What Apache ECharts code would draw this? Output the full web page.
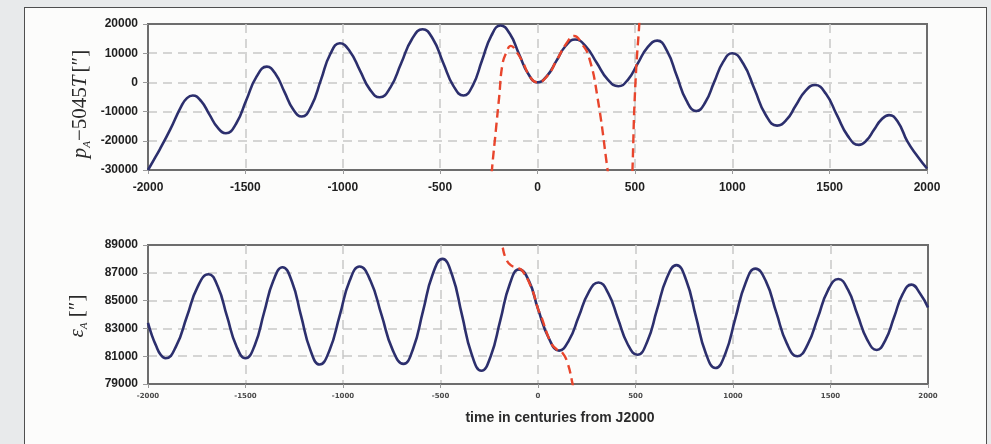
<!DOCTYPE html>
<html><head><meta charset="utf-8">
<script src="https://cdn.jsdelivr.net/npm/echarts@6/dist/echarts.min.js"></script>
<style>
html,body{margin:0;padding:0;background:#e8eaeb;width:991px;height:444px;overflow:hidden;}
#frame{position:absolute;left:24px;top:7px;width:961px;height:460px;border:1px solid #4f4f4f;background:#fcfcfb;}
#chart{position:absolute;left:0;top:0;width:991px;height:444px;}
</style></head><body>
<div id="frame"></div><div id="chart"></div>
<script>
// ---- tick settings ----
const xTicks = [-2000, -1500, -1000, -500, 0, 500, 1000, 1500, 2000];
const topYTicks = [-30000, -20000, -10000, 0, 10000, 20000];
const botYTicks = [79000, 81000, 83000, 85000, 87000, 89000];

// ---- top panel: p_A - 5045T (blue, long-term) ----
const pTime = [-2000,-1970,-1940,-1885,-1830,-1800,-1770,-1727,-1685,-1642,-1600,-1547,-1495,-1442,-1390,-1345,-1300,-1255,-1210,-1161,-1112,-1064,-1015,-964,-912,-861,-810,-755,-700,-645,-590,-537,-485,-432,-380,-332,-285,-237,-190,-142,-95,-47,0,48,97,145,193,248,304,360,415,465,515,565,615,665,715,765,815,861,907,954,1000,1057,1115,1172,1230,1279,1327,1376,1425,1481,1537,1594,1650,1689,1727,1766,1805,1850,1900,1950,2000];
const pValue = [-30000,-26500,-23000,-16000,-8300,-5400,-4500,-6400,-10950,-15500,-17400,-14060,-6000,2060,5400,2900,-3150,-9200,-11700,-8025,850,9725,13400,10690,4150,-2390,-5100,-1690,6550,14790,18200,14880,6850,-1180,-4500,-990,7500,15990,19500,16650,9750,2850,0,2150,7350,12550,14700,12360,6700,1040,-1300,980,6500,12020,14300,10770,2250,-6270,-9800,-6900,100,7100,10000,6370,-2400,-11170,-14800,-12765,-7850,-2935,-900,-3900,-11150,-18400,-21400,-19900,-16300,-12700,-11200,-13460,-20300,-25200,-29500];

// ---- top panel: red dashed polynomial ----
const pRedTimeA = [-240,-234,-214,-197,-180,-160,-137,-105,-77,-35,0,50,97,150,188,230,265,308,359,365];
const pRedValueA = [-36000,-30000,-16500,-5100,6200,10200,12500,10200,7100,1600,0,2200,7400,13500,15900,13000,8500,-5100,-29500,-33000];
const pRedTimeB = [480,488,496,508,522,530];
const pRedValueB = [-40000,-29250,-10800,6250,19300,30000];

// ---- bottom panel: epsilon_A (blue) ----
const eTime = [-2000,-1980,-1960,-1935,-1910,-1855,-1800,-1745,-1690,-1642,-1595,-1547,-1500,-1452,-1405,-1357,-1310,-1262,-1215,-1167,-1120,-1069,-1017,-966,-915,-859,-802,-746,-690,-640,-590,-540,-490,-440,-390,-340,-290,-242,-193,-145,-97,-46,0,57,108,158,209,259,310,360,410,460,510,560,610,660,710,760,810,860,910,961,1012,1064,1115,1169,1222,1276,1330,1382,1435,1487,1540,1589,1638,1688,1737,1781,1826,1870,1915,1960,2000];
const eValue = [83400,82500,81800,81100,80850,81740,83875,86010,86900,86010,83875,81740,80850,81810,84125,86440,87400,86375,83900,81425,80400,81430,83925,86420,87450,86425,83950,81475,80450,81555,84225,86895,88000,86820,83975,81130,79950,81020,83600,86180,87250,86400,84400,82250,81400,82120,83850,85580,86300,85540,83700,81860,81100,82045,84325,86605,87550,86465,83850,81235,80150,81200,83725,86250,87300,86380,84150,81920,81000,81810,83775,85740,86550,85800,84000,82200,81450,82140,83800,85460,86150,85500,84500];

// ---- bottom panel: red dashed polynomial ----
const eRedTime = [-200,-183,-166,-140,-106,-80,-29,0,14,65,95,125,151,176,190];
const eRedValue = [89800,88920,88080,87550,87360,87150,85750,84400,83950,82000,81500,81250,80530,79090,78000];

const zip = (a, b) => a.map((t, i) => [t, b[i]]);

const BLUE = '#2c2f6d', RED = '#e8452c', FRAME = '#6d6d6d';
const fmt = v => String(v);
const gridLine = {show: true, showMinLine: false, showMaxLine: false, lineStyle: {type: [9, 6], color: '#c8c8c8', width: 1.5}};

function xAx(gi, small) {
  return {
    gridIndex: gi, type: 'value', min: xTicks[0], max: xTicks[xTicks.length - 1], interval: xTicks[1] - xTicks[0],
    axisLine: {show: true, onZero: false, lineStyle: {color: FRAME, width: 2}},
    axisTick: {show: true, length: 4, lineStyle: {color: '#9a9a9a', width: 1}},
    axisLabel: small
      ? {margin: 9, fontSize: 7, fontWeight: 'bold', fontFamily: 'DejaVu Sans', color: '#4a4a4a', formatter: fmt, showMinLabel: true, showMaxLabel: true}
      : {margin: 12, fontSize: 12, fontWeight: 'bold', fontFamily: 'Liberation Sans', color: '#1f1f1f', formatter: fmt, showMinLabel: true, showMaxLabel: true},
    splitLine: gridLine
  };
}
function yAx(gi, ticks) {
  return {
    gridIndex: gi, type: 'value', min: ticks[0], max: ticks[ticks.length - 1], interval: ticks[1] - ticks[0],
    axisLine: {show: true, onZero: false, lineStyle: {color: FRAME, width: 2}},
    axisTick: {show: true, length: 5, lineStyle: {color: '#9a9a9a', width: 1}},
    axisLabel: {margin: 10, fontSize: 12, fontWeight: 'bold', fontFamily: 'Liberation Sans', color: '#1f1f1f', formatter: fmt, showMinLabel: true, showMaxLabel: true},
    splitLine: gridLine
  };
}
const blueStyle = {color: BLUE, width: 2.6};
const redStyle = {color: RED, width: 2.4, type: [9, 5]};

const chart = echarts.init(document.getElementById('chart'), null, {renderer: 'canvas'});
chart.setOption({
  animation: false,
  backgroundColor: 'transparent',
  grid: [
    {left: 148, top: 24, width: 779, height: 146, show: true, borderColor: FRAME, borderWidth: 2, backgroundColor: 'transparent'},
    {left: 148, top: 245, width: 780, height: 139, show: true, borderColor: FRAME, borderWidth: 2, backgroundColor: 'transparent'}
  ],
  xAxis: [xAx(0, false), xAx(1, true)],
  yAxis: [yAx(0, topYTicks), yAx(1, botYTicks)],
  series: [
    {type: 'line', xAxisIndex: 0, yAxisIndex: 0, data: zip(pTime, pValue), smooth: 0.5, showSymbol: false, lineStyle: blueStyle, z: 3, clip: true},
    {type: 'line', xAxisIndex: 0, yAxisIndex: 0, data: zip(pRedTimeA, pRedValueA), smooth: 0.5, showSymbol: false, lineStyle: redStyle, z: 4, clip: true},
    {type: 'line', xAxisIndex: 0, yAxisIndex: 0, data: zip(pRedTimeB, pRedValueB), smooth: 0.3, showSymbol: false, lineStyle: redStyle, z: 4, clip: true},
    {type: 'line', xAxisIndex: 1, yAxisIndex: 1, data: zip(eTime, eValue), smooth: 0.5, showSymbol: false, lineStyle: blueStyle, z: 3, clip: true},
    {type: 'line', xAxisIndex: 1, yAxisIndex: 1, data: zip(eRedTime, eRedValue), smooth: 0.5, showSymbol: false, lineStyle: redStyle, z: 4, clip: true}
  ],
  graphic: [
    {type: 'text', x: 80, y: 104, rotation: Math.PI / 2,
     style: {text: '{p|p}{s|A}{n|−5045}{t|T}{n|[″]}', align: 'center', verticalAlign: 'middle', fill: '#2a2a2a',
       rich: {
         p: {fontFamily: 'Liberation Serif', fontStyle: 'italic', fontSize: 21, lineHeight: 25, fill: '#2a2a2a'},
         s: {fontFamily: 'Liberation Serif', fontStyle: 'italic', fontSize: 11, lineHeight: 13, verticalAlign: 'bottom', fill: '#2a2a2a'},
         n: {fontFamily: 'Liberation Serif', fontSize: 21, lineHeight: 25, fill: '#2a2a2a'},
         t: {fontFamily: 'Liberation Serif', fontStyle: 'italic', fontSize: 21, lineHeight: 25, padding: [0, 3, 0, 0], fill: '#2a2a2a'}
       }}},
    {type: 'text', x: 77, y: 316, rotation: Math.PI / 2,
     style: {text: '{e|ε}{s|A}{n| [″]}', align: 'center', verticalAlign: 'middle', fill: '#2a2a2a',
       rich: {
         e: {fontFamily: 'Liberation Serif', fontStyle: 'italic', fontSize: 21, lineHeight: 25, fill: '#2a2a2a'},
         s: {fontFamily: 'Liberation Serif', fontStyle: 'italic', fontSize: 11, lineHeight: 13, verticalAlign: 'bottom', fill: '#2a2a2a'},
         n: {fontFamily: 'Liberation Serif', fontSize: 21, lineHeight: 25, fill: '#2a2a2a'}
       }}},
    {type: 'text', x: 560, y: 418,
     style: {text: 'time in centuries from J2000', align: 'center', verticalAlign: 'middle',
       fontFamily: 'Liberation Sans', fontWeight: 'bold', fontSize: 14, fill: '#2b2b2b'}}
  ]
});
</script>
</body></html>
